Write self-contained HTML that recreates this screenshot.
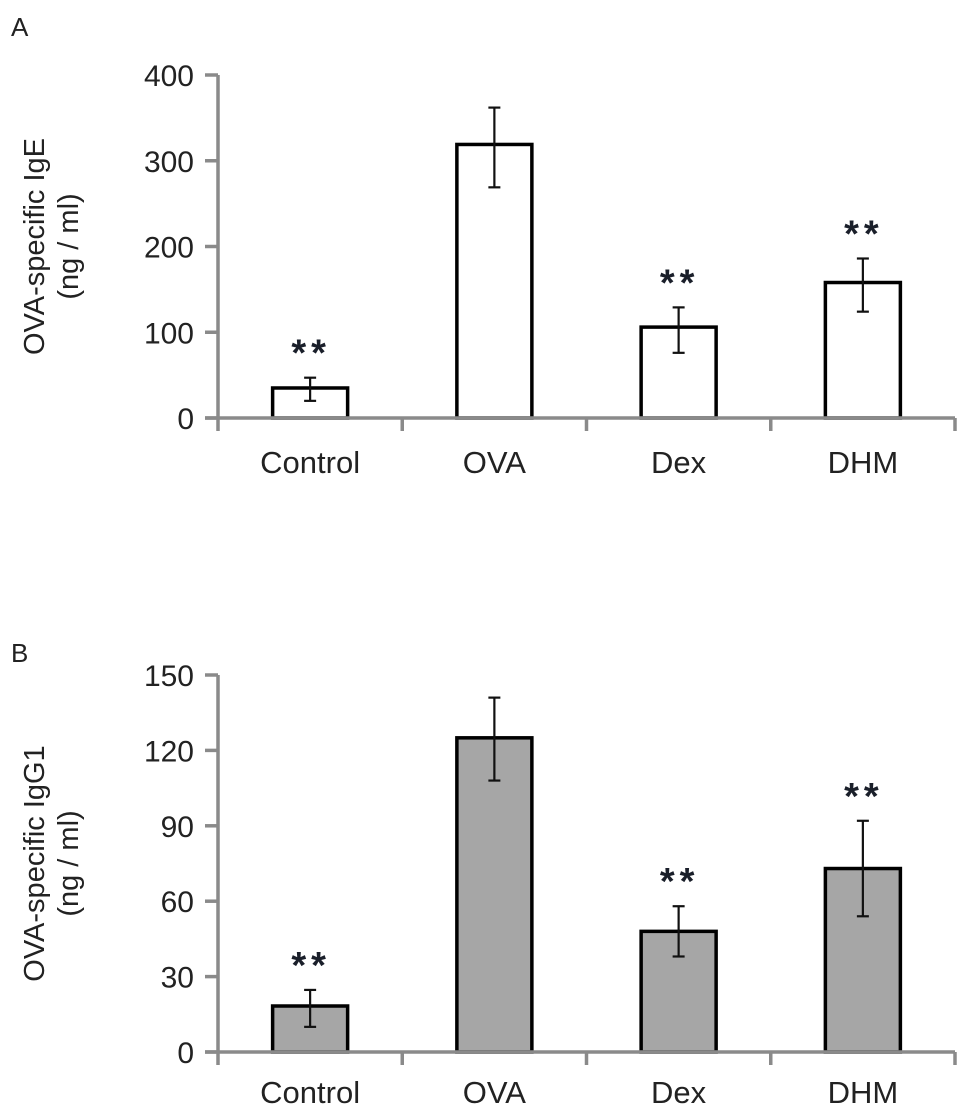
<!DOCTYPE html>
<html><head><meta charset="utf-8"><style>
html,body{margin:0;padding:0;background:#fff;}
svg{display:block;font-family:"Liberation Sans",Arial,sans-serif;}
</style></head><body>
<svg id="chart" width="970" height="1115" viewBox="0 0 970 1115">
<text x="11" y="36" font-size="26" fill="#222">A</text>
<text x="11" y="662" font-size="26" fill="#222">B</text>
</svg>
<script>
const categories = ["Control","OVA","Dex","DHM"];
const igeValues = [35, 319, 106, 158];
const igeErrHi = [47, 362, 129, 186];
const igeErrLo = [20, 269, 76, 124];
const igeSig = [true, false, true, true];
const igeTicks = [0,100,200,300,400];
const igg1Values = [18.3, 125, 48, 73];
const igg1ErrHi = [24.7, 141, 58, 92];
const igg1ErrLo = [10, 108, 38, 54];
const igg1Sig = [true, false, true, true];
const igg1Ticks = [0,30,60,90,120,150];

const svg = document.getElementById('chart');
const NS = 'http://www.w3.org/2000/svg';
function mk(tag, attrs, parent){const e=document.createElementNS(NS,tag);for(const k in attrs)e.setAttribute(k,attrs[k]);(parent||svg).appendChild(e);return e;}

function panel(cfg){
  const g = mk('g',{});
  
  
  const x0=218, x1=955, y0=cfg.y0, y1=cfg.y1, max=cfg.ticks[cfg.ticks.length-1];
  const yS = v => y0 - (v/max)*(y0-y1);
  const band = (x1-x0)/categories.length;
  const xC = i => x0 + band*(i+0.5);
  const bw = 75;
  categories.forEach((c,i)=>{
    const vals=cfg.values[i];
    const r = mk('rect',{x:xC(i)-bw/2,y:yS(vals),width:bw,height:y0-yS(vals),fill:cfg.fill,stroke:'#000','stroke-width':3.5},g);
    
    
    const eg = mk('g',{stroke:'#111','stroke-width':2.2},g);
    
    
    const hi=yS(cfg.hi[i]), lo=yS(cfg.lo[i]);
    mk('line',{x1:xC(i),x2:xC(i),y1:hi,y2:lo},eg);
    mk('line',{x1:xC(i)-6,x2:xC(i)+6,y1:hi,y2:hi},eg);
    mk('line',{x1:xC(i)-6,x2:xC(i)+6,y1:lo,y2:lo},eg);
    if(cfg.sig[i]){
      const t=mk('text',{x:xC(i)+1,y:hi-cfg.starGap,'font-size':38,'font-weight':'bold','text-anchor':'middle',fill:'#1a1f2a','letter-spacing':'5'},g);
      t.textContent='**';
      
      
    }
    const lb=mk('text',{x:xC(i),y:y0+cfg.labelOff,'font-size':31,'text-anchor':'middle',fill:'#222'},g);
    lb.textContent=c;
    
    
  });
  const ax=mk('g',{stroke:'#8a8a8a','stroke-width':3.5,fill:'none'},g);
  
  
  mk('line',{x1:x0,x2:x0,y1:y1,y2:y0+13},ax);
  mk('line',{x1:x0-13,x2:x1,y1:y0,y2:y0},ax);
  for(let i=1;i<=categories.length;i++){const x=x0+band*i;mk('line',{x1:x,x2:x,y1:y0,y2:y0+13},ax);}
  cfg.ticks.forEach(t=>{
    mk('line',{x1:x0-13,x2:x0,y1:yS(t),y2:yS(t)},ax);
    const tl=mk('text',{x:194,y:yS(t)+11,'font-size':30,'text-anchor':'end',fill:'#222'},g);
    tl.textContent=String(t);
    
    
  });
  const cy=(y0+y1)/2;
  const tt=mk('text',{transform:`translate(44,${cy}) rotate(-90)`,'font-size':29,'text-anchor':'middle',fill:'#222'},g);
  tt.textContent=cfg.title;
  
  
  const tu=mk('text',{transform:`translate(78,${cy}) rotate(-90)`,'font-size':29,'text-anchor':'middle',fill:'#222'},g);
  tu.textContent='(ng / ml)';
  
  
}
panel({name:'panel-a-ige',y0:418,y1:75,ticks:igeTicks,values:igeValues,hi:igeErrHi,lo:igeErrLo,sig:igeSig,fill:'#fff',title:'OVA-specific IgE',starGap:12,labelOff:55});
panel({name:'panel-b-igg1',y0:1052,y1:675,ticks:igg1Ticks,values:igg1Values,hi:igg1ErrHi,lo:igg1ErrLo,sig:igg1Sig,fill:'#a6a6a6',title:'OVA-specific IgG1',starGap:12,labelOff:51});
</script>
</body></html>
